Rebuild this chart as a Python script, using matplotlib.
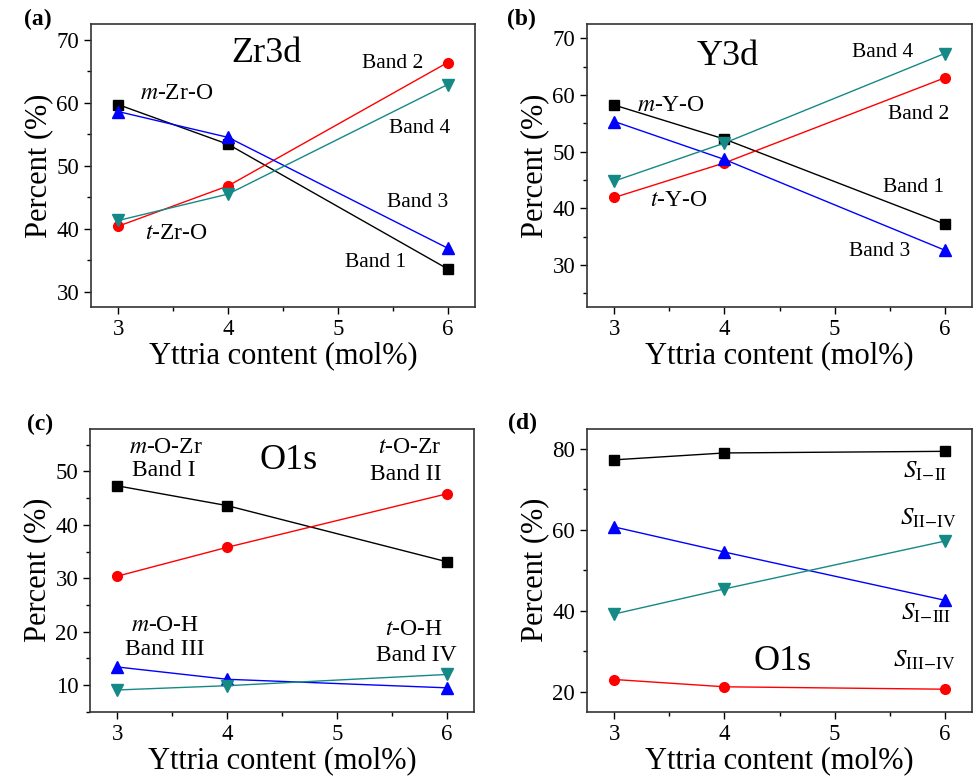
import matplotlib
matplotlib.use('Agg')
import matplotlib.pyplot as plt
from matplotlib.ticker import MultipleLocator

plt.rcParams['font.family'] = ['Liberation Serif', 'DejaVu Serif']
plt.rcParams['mathtext.fontset'] = 'stix'

# 数据
yttria = [3, 4, 6]

# (a) Zr3d
zr_band1 = [59.7, 53.4, 33.6]
zr_band2 = [40.4, 46.8, 66.4]
zr_band3 = [58.6, 54.5, 36.9]
zr_band4 = [41.3, 45.5, 62.9]

# (b) Y3d
y_band1 = [58.2, 52.2, 37.2]
y_band2 = [41.9, 48.0, 63.0]
y_band3 = [55.3, 48.6, 32.6]
y_band4 = [44.8, 51.5, 67.3]

# (c) O1s
o_band1 = [47.3, 43.6, 33.1]
o_band2 = [30.4, 35.8, 45.8]
o_band3 = [13.4, 11.1, 9.5]
o_band4 = [9.1, 9.9, 12.0]

# (d) O1s ratios
s_12 = [77.3, 79.0, 79.4]
s_34 = [23.0, 21.2, 20.6]
s_13 = [60.7, 54.5, 42.6]
s_24 = [39.2, 45.4, 57.2]

TEAL = '#158986'


def series(ax, y, color, marker):
    ms = 8 if marker in ('^', 'v') else 7
    ax.plot(yttria, y, color=color, lw=1.0, marker=marker, ms=ms,
            markeredgecolor=color, markerfacecolor=color)


def setup(ax, ylim, ymajor):
    ax.set_xlim(2.75, 6.25)
    ax.set_ylim(*ylim)
    ax.xaxis.set_major_locator(MultipleLocator(1))
    ax.xaxis.set_minor_locator(MultipleLocator(0.5))
    ax.yaxis.set_major_locator(MultipleLocator(ymajor))
    ax.yaxis.set_minor_locator(MultipleLocator(ymajor / 2))
    ax.tick_params(which='major', direction='out', length=5, width=1, labelsize=16.5)
    ax.tick_params(which='minor', direction='out', length=3, width=1)
    for s in ax.spines.values():
        s.set_color('#333333')
        s.set_linewidth(1.2)
    ax.set_xlabel('Yttria content (mol%)', fontsize=22, labelpad=1)
    ax.set_ylabel('Percent (%)', fontsize=22, labelpad=2)


fig = plt.figure(figsize=(9.75, 7.78), dpi=100)
ax_a = fig.add_axes([0.0933, 0.605, 0.394, 0.364])
ax_b = fig.add_axes([0.602, 0.605, 0.395, 0.364])
ax_c = fig.add_axes([0.0923, 0.085, 0.394, 0.364])
ax_d = fig.add_axes([0.602, 0.085, 0.395, 0.364])

# (a)
series(ax_a, zr_band1, 'black', 's')
series(ax_a, zr_band2, 'red', 'o')
series(ax_a, zr_band3, 'blue', '^')
series(ax_a, zr_band4, TEAL, 'v')
setup(ax_a, (27.5, 72.5), 10)
ax_a.text(4.35, 67.9, 'Zr3d', fontsize=26, ha='center', va='center')
ax_a.text(3.2, 61.4, r'$\it{m}$-Zr-O', fontsize=17, ha='left', va='center')
ax_a.text(3.24, 39.2, r'$\it{t}$-Zr-O', fontsize=17, ha='left', va='center')
ax_a.text(5.5, 66.2, 'Band 2', fontsize=15.5, ha='center', va='center')
ax_a.text(5.74, 55.9, 'Band 4', fontsize=15.5, ha='center', va='center')
ax_a.text(5.73, 44.1, 'Band 3', fontsize=15.5, ha='center', va='center')
ax_a.text(5.34, 34.6, 'Band 1', fontsize=15.5, ha='center', va='center')

# (b)
series(ax_b, y_band1, 'black', 's')
series(ax_b, y_band2, 'red', 'o')
series(ax_b, y_band3, 'blue', '^')
series(ax_b, y_band4, TEAL, 'v')
setup(ax_b, (22.5, 72.5), 10)
ax_b.text(4.03, 66.8, 'Y3d', fontsize=26, ha='center', va='center')
ax_b.text(3.51, 58.2, r'$\it{m}$-Y-O', fontsize=17, ha='center', va='center')
ax_b.text(3.58, 41.4, r'$\it{t}$-Y-O', fontsize=17, ha='center', va='center')
ax_b.text(5.44, 67.5, 'Band 4', fontsize=15.5, ha='center', va='center')
ax_b.text(5.76, 56.6, 'Band 2', fontsize=15.5, ha='center', va='center')
ax_b.text(5.72, 43.7, 'Band 1', fontsize=15.5, ha='center', va='center')
ax_b.text(5.41, 32.3, 'Band 3', fontsize=15.5, ha='center', va='center')

# (c)
series(ax_c, o_band1, 'black', 's')
series(ax_c, o_band2, 'red', 'o')
series(ax_c, o_band3, 'blue', '^')
series(ax_c, o_band4, TEAL, 'v')
setup(ax_c, (5, 58), 10)
ax_c.text(4.56, 52.0, 'O1s', fontsize=26, ha='center', va='center')
ax_c.text(3.44, 54.4, r'$\it{m}$-O-Zr', fontsize=17, ha='center', va='center')
ax_c.text(3.42, 50.1, 'Band I', fontsize=17, ha='center', va='center')
ax_c.text(5.66, 54.4, r'$\it{t}$-O-Zr', fontsize=17, ha='center', va='center')
ax_c.text(5.63, 49.4, 'Band II', fontsize=17, ha='center', va='center')
ax_c.text(3.43, 21.2, r'$\it{m}$-O-H', fontsize=17, ha='center', va='center')
ax_c.text(3.43, 16.7, 'Band III', fontsize=17, ha='center', va='center')
ax_c.text(5.70, 20.5, r'$\it{t}$-O-H', fontsize=17, ha='center', va='center')
ax_c.text(5.72, 15.6, 'Band IV', fontsize=17, ha='center', va='center')

# (d)
series(ax_d, s_12, 'black', 's')
series(ax_d, s_34, 'red', 'o')
series(ax_d, s_13, 'blue', '^')
series(ax_d, s_24, TEAL, 'v')
setup(ax_d, (15, 85), 20)
ax_d.text(4.53, 27.4, 'O1s', fontsize=26, ha='center', va='center')
ax_d.text(5.82, 74.5, r'$S_{\mathrm{I\!-\!II}}$', fontsize=18, ha='center', va='center')
ax_d.text(5.85, 62.8, r'$S_{\mathrm{II\!-\!IV}}$', fontsize=18, ha='center', va='center')
ax_d.text(5.83, 39.4, r'$S_{\mathrm{I\!-\!III}}$', fontsize=18, ha='center', va='center')
ax_d.text(5.82, 27.8, r'$S_{\mathrm{III\!-\!IV}}$', fontsize=18, ha='center', va='center')

# 面板标签
fig.text(0.039, 0.975, '(a)', fontsize=17, fontweight='bold', ha='center', va='center')
fig.text(0.535, 0.975, '(b)', fontsize=17, fontweight='bold', ha='center', va='center')
fig.text(0.041, 0.454, '(c)', fontsize=17, fontweight='bold', ha='center', va='center')
fig.text(0.536, 0.456, '(d)', fontsize=17, fontweight='bold', ha='center', va='center')

fig.savefig('out.png', dpi=100)
